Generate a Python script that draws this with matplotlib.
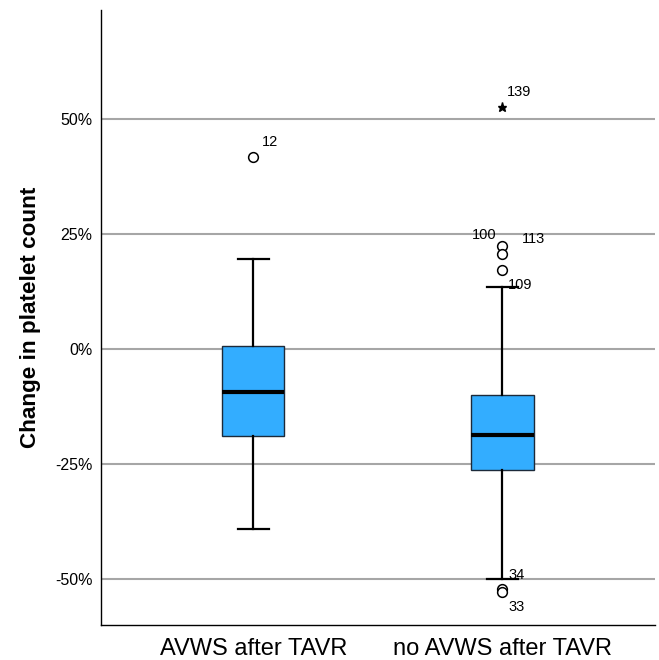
import numpy as np
import matplotlib.pyplot as plt
from matplotlib.ticker import FuncFormatter

plt.rcParams['font.family'] = ['Liberation Sans', 'DejaVu Sans']

# values (percent change)
groups = ['AVWS after TAVR', 'no AVWS after TAVR']
q1 = [-19.0, -26.3]
med = [-9.4, -18.8]
q3 = [0.5, -10.0]
whislo = [-39.1, -49.9]
whishi = [19.5, 13.4]

# outliers: (group index, value, case id)
out_grp = [0, 1, 1, 1, 1, 1]
out_val = [41.6, 22.4, 20.5, 17.0, -52.2, -52.8]
out_id = ['12', '100', '113', '109', '34', '33']
# extreme outliers (star)
ext_grp = [1]
ext_val = [52.6]
ext_id = ['139']

fig = plt.figure(figsize=(6.59, 6.60), dpi=100)
ax = fig.add_axes([0.1533, 0.053, 0.8406, 0.932])

stats = []
for i in range(len(groups)):
    stats.append(dict(med=med[i], q1=q1[i], q3=q3[i], whislo=whislo[i],
                      whishi=whishi[i], fliers=[], label=groups[i]))

pos = [1, 2]
ax.bxp(stats, positions=pos, widths=0.25, patch_artist=True, showfliers=False,
       boxprops=dict(facecolor='#33adff', edgecolor='#1c2a3a', linewidth=1.0),
       medianprops=dict(color='black', linewidth=3),
       whiskerprops=dict(color='black', linewidth=1.6),
       capprops=dict(color='black', linewidth=1.6),
       capwidths=0.125, zorder=3)

# outlier circles and labels (offsets in points)
lab_off = {'12': (6.5, 10.8, 'left'), '100': (-4, 8, 'right'), '113': (13.7, 10.8, 'left'),
           '109': (3.6, -10.8, 'left'), '34': (4.3, 10.3, 'left'), '33': (4, -10.8, 'left')}
for g, v, t in zip(out_grp, out_val, out_id):
    ax.plot(pos[g], v, 'o', mfc='white', mec='black', ms=7, mew=1.1, zorder=4)
    dx, dy, ha = lab_off[t]
    ax.annotate(t, (pos[g], v), xytext=(dx, dy), textcoords='offset points',
                ha=ha, va='center', fontsize=10.5, zorder=5)

for g, v, t in zip(ext_grp, ext_val, ext_id):
    ax.plot(pos[g], v, '*', color='black', ms=6.5, zorder=4)
    ax.annotate(t, (pos[g], v), xytext=(3, 10.8), textcoords='offset points',
                ha='left', va='center', fontsize=10.5)

ax.set_xlim(0.389, 2.612)
ax.set_ylim(-60, 73.6)
ax.set_yticks([-50, -25, 0, 25, 50])
ax.yaxis.set_major_formatter(FuncFormatter(lambda v, p: '%d%%' % v))
ax.set_xticks(pos)
ax.set_xticklabels(groups, fontsize=17)
ax.tick_params(axis='both', length=0)
ax.tick_params(axis='y', labelsize=11.5, pad=6)
ax.tick_params(axis='x', pad=9)
ax.grid(axis='y', color='#a6a6a6', linewidth=1.5, zorder=0)
ax.set_axisbelow(True)
for s in ['top', 'right']:
    ax.spines[s].set_visible(False)
ax.spines['left'].set_linewidth(1.0)
ax.spines['bottom'].set_linewidth(1.0)
ax.set_ylabel('Change in platelet count', fontsize=16.2, fontweight='bold', labelpad=10)

fig.savefig('out.png', dpi=100)
